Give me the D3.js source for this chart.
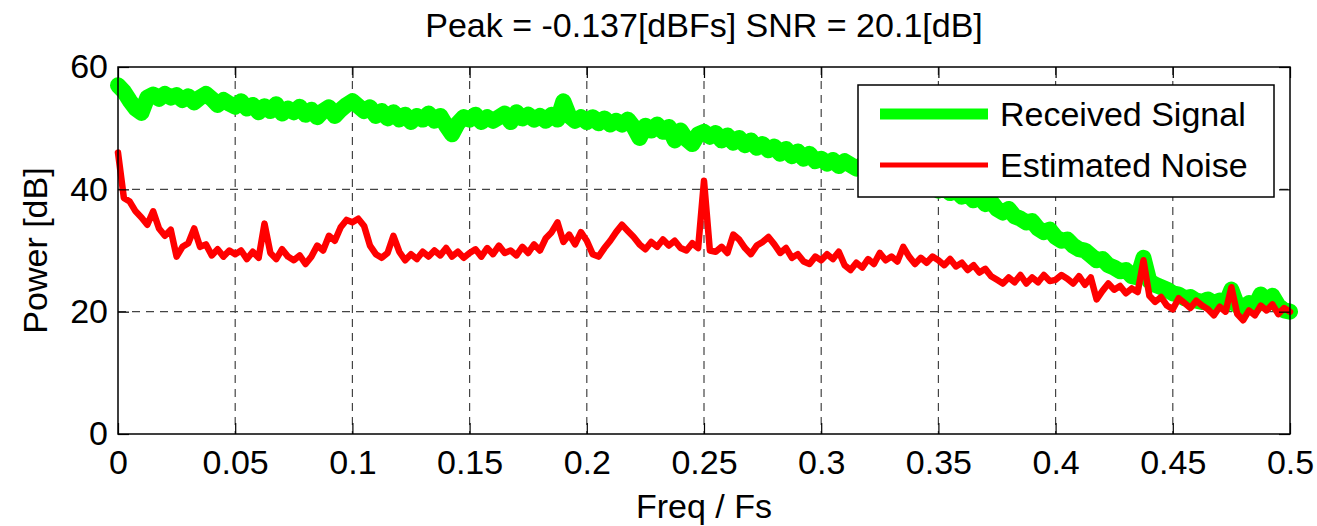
<!DOCTYPE html>
<html>
<head>
<meta charset="utf-8">
<script src="https://cdn.jsdelivr.net/npm/d3@7"></script>
<style>
  body { margin: 0; background: #fff; }
  svg { display: block; font-family: "Liberation Sans", Arial, sans-serif; }
  .grid line { stroke: #444; stroke-width: 1.2; stroke-dasharray: 8,6; }
  .tick text { font-size: 34px; fill: #000; }
</style>
</head>
<body>
<svg></svg>
<script>

var freqStep = 0.0025; // spacing of the sampled points (Freq / Fs)

// Received signal power [dB], one value per freqStep from 0 to 0.5
var signalDb = [
  57.0, 56.0, 54.5, 53.2, 52.5, 55.0, 55.5, 54.8, 55.6, 55.0,
  55.4, 54.6, 55.2, 54.2, 55.0, 55.6, 54.8, 53.8, 54.6, 54.0,
  53.5, 54.4, 53.2, 53.8, 52.6, 53.6, 52.8, 53.9, 52.4, 53.2,
  52.6, 53.5, 52.2, 53.0, 51.8, 52.8, 53.4, 52.0, 53.0, 53.8,
  54.4, 53.6, 52.8, 53.4, 52.0, 52.8, 51.6, 52.6, 51.4, 52.2,
  51.0, 52.0, 51.4, 52.4, 51.2, 52.0, 50.4, 49.0, 50.8, 51.8,
  51.4, 52.2, 51.0, 51.8, 51.2, 51.8, 52.4, 51.0, 52.6, 51.6,
  52.2, 51.4, 52.0, 51.2, 52.2, 51.4, 54.4, 52.0, 51.2, 51.8,
  51.0, 51.8, 50.8, 51.6, 50.6, 51.2, 50.6, 51.4, 50.2, 48.4,
  50.4, 49.6, 50.6, 49.4, 50.2, 48.0, 49.6, 48.2, 47.4, 49.0,
  49.4, 48.6, 49.2, 48.0, 48.8, 47.6, 48.4, 47.2, 48.0, 46.8,
  47.4, 46.4, 47.0, 45.8, 46.6, 45.4, 46.2, 45.0, 45.8, 44.6,
  45.0, 44.2, 44.8, 43.8, 44.6, 44.0, 43.4, 44.0, 43.0, 43.6,
  42.6, 43.2, 42.2, 42.8, 41.6, 42.0, 41.0, 41.6, 40.4, 40.8,
  39.8, 40.2, 39.4, 39.8, 38.8, 39.2, 38.2, 38.8, 37.6, 38.0,
  36.8, 36.2, 36.8, 35.6, 35.2, 34.6, 34.8, 33.6, 33.0, 33.4,
  32.2, 31.6, 31.8, 30.8, 30.2, 30.0, 29.2, 28.4, 28.6, 27.6,
  27.2, 26.6, 26.8, 25.8, 25.6, 28.8, 25.0, 24.4, 24.0, 23.6,
  23.0, 22.8, 22.2, 22.4, 21.8, 21.6, 22.0, 21.4, 21.8, 21.2,
  23.6, 21.0, 20.6, 21.4, 20.8, 22.8, 21.6, 22.6, 21.0, 20.2,
  20.0
];

// Estimated noise power [dB], same frequency grid
var noiseDb = [
  46.0, 38.6, 38.0, 36.4, 35.4, 34.2, 36.4, 33.6, 32.4, 33.4,
  29.0, 30.6, 31.2, 33.6, 30.6, 31.0, 29.2, 30.2, 29.0, 30.0,
  29.4, 30.0, 28.6, 29.8, 28.8, 34.4, 29.6, 28.6, 30.2, 29.0,
  28.4, 29.2, 27.8, 29.0, 30.8, 30.0, 32.4, 31.6, 33.8, 35.0,
  34.6, 35.2, 34.0, 30.8, 29.4, 28.8, 29.6, 32.4, 29.8, 28.4,
  29.4, 28.6, 29.8, 29.0, 30.0, 29.2, 30.4, 29.0, 29.8, 28.8,
  29.6, 30.2, 29.0, 30.4, 29.4, 30.8, 29.6, 30.0, 29.2, 30.6,
  29.6, 31.0, 30.0, 32.0, 33.0, 34.6, 31.4, 32.6, 31.0, 33.0,
  31.6, 29.4, 29.0, 30.4, 31.6, 33.0, 34.2, 33.2, 32.2, 31.0,
  30.2, 31.4, 30.6, 31.8, 30.8, 31.6, 30.4, 30.0, 31.2, 30.4,
  41.4, 30.0, 29.8, 30.6, 29.6, 32.6, 31.8, 30.4, 29.4, 30.8,
  31.4, 32.2, 31.0, 29.6, 30.4, 28.8, 29.4, 28.2, 27.8, 29.0,
  28.4, 29.4, 28.6, 29.8, 27.6, 26.8, 28.0, 27.2, 28.6, 27.8,
  29.6, 28.4, 29.0, 28.2, 30.6, 29.0, 27.8, 28.8, 28.0, 29.0,
  28.4, 27.6, 28.6, 27.4, 28.0, 26.8, 27.6, 26.4, 27.0, 25.8,
  25.2, 24.6, 25.6, 24.8, 26.0, 24.6, 25.6, 24.8, 26.0, 25.0,
  25.2, 26.0, 25.4, 24.6, 25.8, 24.4, 25.6, 22.0, 23.4, 24.6,
  23.6, 24.2, 23.0, 23.8, 23.2, 28.4, 22.6, 21.6, 22.4, 21.0,
  20.4, 22.2, 21.4, 20.6, 21.8, 21.0, 20.4, 19.4, 20.8, 20.0,
  24.0, 19.6, 18.6, 20.2, 19.4, 21.0, 20.2, 21.2, 19.6, 20.6,
  20.0
];

var xTicks = [0, 0.05, 0.1, 0.15, 0.2, 0.25, 0.3, 0.35, 0.4, 0.45, 0.5];
var yTicks = [0, 20, 40, 60];
var seriesNames = ["Received Signal", "Estimated Noise"];
var seriesColors = ["#00ff00", "#ff0000"];

var width = 1317, height = 526;
var margin = {left: 118, right: 27, top: 67, bottom: 92};
var innerW = width - margin.left - margin.right,
    innerH = height - margin.top - margin.bottom;

var svg = d3.select("svg")
    .attr("width", width)
    .attr("height", height);

var g = svg.append("g")
    .attr("transform", "translate(" + margin.left + "," + margin.top + ")");

var x = d3.scaleLinear().domain([0, 0.5]).range([0, innerW]);
var y = d3.scaleLinear().domain([0, 60]).range([innerH, 0]);

// dashed grid
var grid = g.append("g").attr("class", "grid");
grid.selectAll("line.vx")
    .data(xTicks.slice(1, -1))
  .enter().append("line")
    .attr("x1", function(d) { return x(d); })
    .attr("x2", function(d) { return x(d); })
    .attr("y1", 0)
    .attr("y2", innerH);
grid.selectAll("line.hy")
    .data(yTicks.slice(1, -1))
  .enter().append("line")
    .attr("x1", 0)
    .attr("x2", innerW)
    .attr("y1", function(d) { return y(d); })
    .attr("y2", function(d) { return y(d); });

// lines
var line = d3.line()
    .x(function(d, i) { return x(i * freqStep); })
    .y(function(d) { return y(d); });

g.append("path")
    .datum(signalDb)
    .attr("d", line)
    .attr("fill", "none")
    .attr("stroke", seriesColors[0])
    .attr("stroke-width", 16)
    .attr("stroke-linejoin", "round")
    .attr("stroke-linecap", "round");

g.append("path")
    .datum(noiseDb)
    .attr("d", line)
    .attr("fill", "none")
    .attr("stroke", seriesColors[1])
    .attr("stroke-width", 6.5)
    .attr("stroke-linejoin", "round")
    .attr("stroke-linecap", "round");

// axes, MATLAB style: ticks inside on all four sides
var tickLen = 11;
g.append("g")
    .attr("transform", "translate(0," + innerH + ")")
    .call(d3.axisBottom(x).tickValues(xTicks).tickFormat(d3.format("")).tickSizeInner(-tickLen).tickSizeOuter(0).tickPadding(16));
g.append("g")
    .call(d3.axisLeft(y).tickValues(yTicks).tickSizeInner(-tickLen).tickSizeOuter(0).tickPadding(10));
g.append("g")
    .call(d3.axisTop(x).tickValues(xTicks).tickFormat("").tickSizeInner(-tickLen).tickSizeOuter(0));
g.append("g")
    .attr("transform", "translate(" + innerW + ",0)")
    .call(d3.axisRight(y).tickValues(yTicks).tickFormat("").tickSizeInner(-tickLen).tickSizeOuter(0));

g.selectAll(".domain").remove();
g.selectAll(".tick line").attr("stroke", "#000").attr("stroke-width", 1.2);
g.selectAll(".tick text").attr("font-family", null).attr("font-size", null);

g.append("rect")
    .attr("width", innerW)
    .attr("height", innerH)
    .attr("fill", "none")
    .attr("stroke", "#000")
    .attr("stroke-width", 1.5);

// legend
var legend = g.append("g")
    .attr("transform", "translate(" + (858 - margin.left) + "," + (85 - margin.top) + ")");
legend.append("rect")
    .attr("width", 416)
    .attr("height", 112)
    .attr("fill", "#fff")
    .attr("stroke", "#000")
    .attr("stroke-width", 1.5);
var item = legend.selectAll("g.item")
    .data(seriesNames)
  .enter().append("g")
    .attr("transform", function(d, i) { return "translate(0," + (29 + i * 51) + ")"; });
item.append("line")
    .attr("x1", 22).attr("x2", 130)
    .attr("stroke", function(d, i) { return seriesColors[i]; })
    .attr("stroke-width", function(d, i) { return i === 0 ? 11 : 5; });
item.append("text")
    .attr("x", 142)
    .attr("y", 12)
    .attr("font-size", 34)
    .text(function(d) { return d; });

// titles
svg.append("text")
    .attr("x", margin.left + innerW / 2)
    .attr("y", 37)
    .attr("text-anchor", "middle")
    .attr("font-size", 34)
    .text("Peak = -0.137[dBFs] SNR = 20.1[dB]");

svg.append("text")
    .attr("x", margin.left + innerW / 2)
    .attr("y", 518)
    .attr("text-anchor", "middle")
    .attr("font-size", 34)
    .text("Freq / Fs");

svg.append("text")
    .attr("transform", "translate(47," + (margin.top + innerH / 2) + ")rotate(-90)")
    .attr("text-anchor", "middle")
    .attr("font-size", 34)
    .text("Power [dB]");

</script>
</body>
</html>
